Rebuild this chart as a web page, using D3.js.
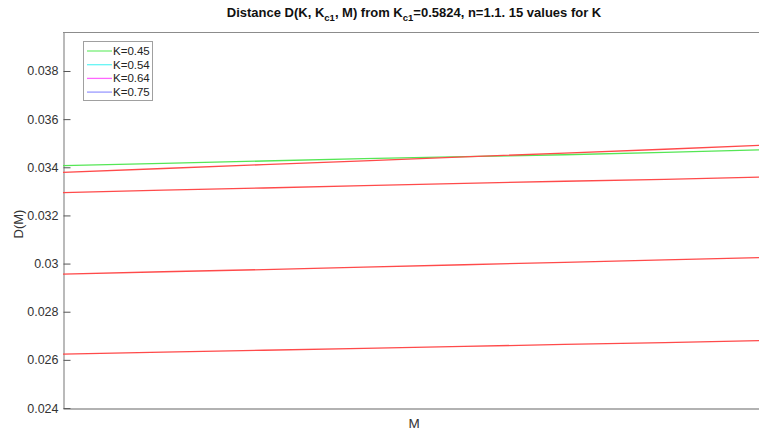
<!DOCTYPE html>
<html>
<head>
<meta charset="utf-8">
<script src="https://cdn.jsdelivr.net/npm/d3@7"></script>
<style>
  html, body { margin: 0; padding: 0; background: #fff; }
  svg { display: block; font-family: "Liberation Sans", Arial, Helvetica, sans-serif; }
</style>
</head>
<body>
<svg id="chart" width="759" height="435"></svg>
<script>
// Sample positions along M (axis carries no tick labels)
const mValues = [0, 1, 2, 3, 4, 5, 6, 7];

// Distance curves D(M)
const seriesGreen = [0.03407, 0.03416, 0.03426, 0.03436, 0.03444, 0.03452, 0.03462, 0.03473];
const seriesRed1  = [0.03379, 0.03395, 0.03411, 0.03427, 0.03443, 0.03459, 0.03475, 0.03492];
const seriesRed2  = [0.03295, 0.03305, 0.03314, 0.03324, 0.03333, 0.03342, 0.03350, 0.03360];
const seriesRed3  = [0.02956, 0.02966, 0.02975, 0.02985, 0.02995, 0.03005, 0.03015, 0.03025];
const seriesRed4  = [0.02624, 0.02632, 0.02640, 0.02648, 0.02656, 0.02664, 0.02672, 0.02680];

const seriesList = [seriesRed4, seriesRed3, seriesRed2, seriesGreen, seriesRed1];
const seriesColors = ["#ff4a4a", "#ff4a4a", "#ff4a4a", "#55e655", "#ff4a4a"];

// Legend entries
const legendLabels = ["K=0.45", "K=0.54", "K=0.64", "K=0.75"];
const legendColors = ["#77ee77", "#66f5f5", "#ff66ff", "#9a9aff"];

// Y tick values
const yTicks = [0.024, 0.026, 0.028, 0.03, 0.032, 0.034, 0.036, 0.038];

const svg = d3.select("#chart");
const plotLeft = 63, plotRight = 765, plotTop = 32, plotBottom = 408;

const x = d3.scaleLinear().domain([0, 7]).range([plotLeft, plotRight]);
const y = d3.scaleLinear().domain([0.024, 0.03962]).range([plotBottom, plotTop]);

const axisColor = "#8c8c8c";
const tickColor = "#555";
const textColor = "#333";

// Plot frame: top edge, left and bottom axes
svg.append("line").attr("x1", plotLeft).attr("x2", plotRight)
  .attr("y1", plotTop + 0.5).attr("y2", plotTop + 0.5)
  .attr("stroke", axisColor).attr("stroke-width", 1);

// Y axis with inward ticks
const yAxis = d3.axisLeft(y).tickValues(yTicks).tickSizeInner(-7).tickSizeOuter(0)
  .tickPadding(5).tickFormat(d => String(+d.toFixed(3)));
const gy = svg.append("g").attr("transform", `translate(${plotLeft + 0.5},0)`).call(yAxis);
gy.select(".domain").attr("stroke", axisColor).attr("stroke-width", 1.2);
gy.selectAll(".tick line").attr("stroke", tickColor);
gy.selectAll(".tick text").attr("fill", textColor).style("font-size", "12.5px")
  .style("font-family", "'Liberation Sans', Arial, sans-serif");

// X axis without ticks
const xAxis = d3.axisBottom(x).tickValues([]).tickSizeOuter(0);
const gx = svg.append("g").attr("transform", `translate(0,${plotBottom + 0.5})`).call(xAxis);
gx.select(".domain").attr("stroke", "#666").attr("stroke-width", 1.2);

// Curves
const line = d3.line().x((d, i) => x(mValues[i])).y(d => y(d));
svg.append("g").selectAll("path").data(seriesList).join("path")
  .attr("d", d => line(d))
  .attr("fill", "none")
  .attr("stroke", (d, i) => seriesColors[i])
  .attr("stroke-width", 1.3);

// Legend box
const lg = svg.append("g");
lg.append("rect").attr("x", 83.5).attr("y", 41.5).attr("width", 69).attr("height", 59)
  .attr("fill", "#fff").attr("stroke", "#a0a0a0").attr("stroke-width", 1);
legendLabels.forEach((lab, i) => {
  const cy = 51 + i * 13.7;
  lg.append("line").attr("x1", 87).attr("x2", 112).attr("y1", cy).attr("y2", cy)
    .attr("stroke", legendColors[i]).attr("stroke-width", 1.3);
  lg.append("text").attr("x", 113).attr("y", cy + 4).text(lab)
    .attr("fill", "#222").style("font-size", "11.5px");
});

// Axis labels
svg.append("text").attr("x", (plotLeft + plotRight) / 2).attr("y", 428).attr("text-anchor", "middle")
  .attr("fill", textColor).style("font-size", "13.5px").text("M");
svg.append("text").attr("transform", "translate(23,224) rotate(-90)").attr("text-anchor", "middle")
  .attr("fill", textColor).style("font-size", "13px").text("D(M)");

// Title with subscripts
const title = svg.append("text").attr("x", (plotLeft + plotRight) / 2).attr("y", 17).attr("text-anchor", "middle")
  .attr("fill", "#111").style("font-size", "13px").style("font-weight", "bold");
title.append("tspan").text("Distance D(K, K");
title.append("tspan").attr("dy", 4).style("font-size", "9.5px").text("c1");
title.append("tspan").attr("dy", -4).text(", M) from K");
title.append("tspan").attr("dy", 4).style("font-size", "9.5px").text("c1");
title.append("tspan").attr("dy", -4).text("=0.5824, n=1.1. 15 values for K");
</script>
</body>
</html>
